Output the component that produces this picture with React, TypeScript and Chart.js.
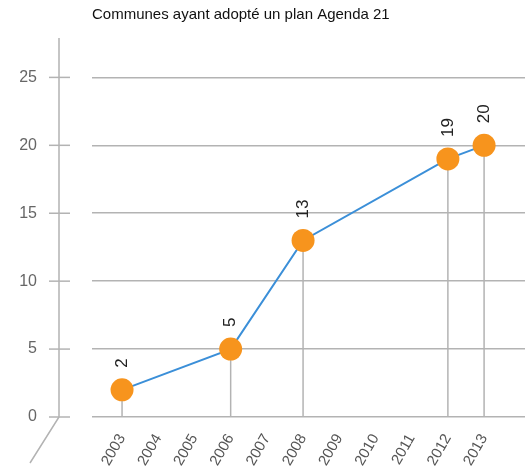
import React, { useEffect, useRef } from "react";
import { Chart, registerables } from "chart.js";

Chart.register(...registerables);

const title = "Communes ayant adopté un plan Agenda 21";
const years = [2003, 2006, 2008, 2012, 2013];
const values = [2, 5, 13, 19, 20];
const xTickYears = [2003, 2004, 2005, 2006, 2007, 2008, 2009, 2010, 2011, 2012, 2013];
const yTickValues = [0, 5, 10, 15, 20, 25];

const FONT = "'Liberation Sans', Arial, Helvetica, sans-serif";
const GRID = "#b3b3b3";

const zeroPad = (s: any) => {
  s.paddingTop = 0;
  s.paddingBottom = 0;
  s.paddingLeft = 0;
  s.paddingRight = 0;
};

const decorPlugin = {
  id: "decor",
  beforeDatasetsDraw(chart: any) {
    const { ctx } = chart;
    const xs = chart.scales.x;
    const ys = chart.scales.y;
    const y0 = ys.getPixelForValue(0);
    ctx.save();
    ctx.strokeStyle = GRID;
    ctx.lineWidth = 1.5;
    years.forEach((yr, i) => {
      const px = xs.getPixelForValue(yr);
      const py = ys.getPixelForValue(values[i]);
      ctx.beginPath();
      ctx.moveTo(px, py);
      ctx.lineTo(px, y0);
      ctx.stroke();
    });
    ctx.restore();
  },
  afterDatasetsDraw(chart: any) {
    const { ctx } = chart;
    const xs = chart.scales.x;
    const ys = chart.scales.y;
    ctx.save();
    ctx.fillStyle = "#222";
    ctx.font = `17px ${FONT}`;
    ctx.textAlign = "left";
    ctx.textBaseline = "middle";
    years.forEach((yr, i) => {
      const px = xs.getPixelForValue(yr);
      const py = ys.getPixelForValue(values[i]);
      ctx.save();
      ctx.translate(px, py - 22);
      ctx.rotate(-Math.PI / 2);
      ctx.fillText(String(values[i]), 0, 0);
      ctx.restore();
    });
    ctx.restore();
  },
  afterDraw(chart: any) {
    const { ctx, chartArea } = chart;
    const ys = chart.scales.y;
    const y0 = ys.getPixelForValue(0);
    const axX = chartArea.left - 33;
    ctx.save();
    ctx.strokeStyle = GRID;
    ctx.lineWidth = 1.5;
    ctx.beginPath();
    ctx.moveTo(axX, chartArea.top);
    ctx.lineTo(axX, y0);
    ctx.lineTo(axX - 29, y0 + 46);
    ctx.stroke();
    yTickValues.forEach((v) => {
      const py = ys.getPixelForValue(v);
      ctx.beginPath();
      ctx.moveTo(axX - 10, py);
      ctx.lineTo(axX + 11, py);
      ctx.stroke();
    });
    ctx.fillStyle = "#111";
    ctx.font = `15px ${FONT}`;
    ctx.textAlign = "left";
    ctx.textBaseline = "middle";
    ctx.fillText(title, chartArea.left, 15);
    ctx.restore();
  },
};

export default function App() {
  const ref = useRef<HTMLCanvasElement>(null);
  useEffect(() => {
    if (!ref.current) return;
    const chart = new Chart(ref.current, {
      type: "line",
      data: {
        datasets: [
          {
            data: years.map((yr, i) => ({ x: yr, y: values[i] })),
            borderColor: "#3b8fd8",
            borderWidth: 2,
            pointRadius: 11.5,
            pointBackgroundColor: "#f7941d",
            pointBorderColor: "#f7941d",
            pointBorderWidth: 0,
            tension: 0,
            clip: false,
          },
        ],
      },
      options: {
        responsive: false,
        animation: false,
        layout: { autoPadding: false, padding: { top: 38, left: 0, right: 0, bottom: 0 } },
        plugins: {
          legend: { display: false },
          title: { display: false },
          tooltip: { enabled: false },
        },
        scales: {
          x: {
            type: "linear",
            min: 2002.17,
            max: 2014.13,
            grid: { display: false },
            border: { display: false },
            afterBuildTicks: (s: any) => {
              s.ticks = xTickYears.map((v) => ({ value: v }));
            },
            afterFit: (s: any) => {
              s.height = 49;
              zeroPad(s);
            },
            ticks: {
              autoSkip: false,
              minRotation: 60,
              maxRotation: 60,
              padding: 6,
              color: "#555",
              font: { family: FONT, size: 15 },
              callback: (v: any) => String(v),
            },
          },
          y: {
            type: "linear",
            min: 0,
            max: 27.9,
            grid: { color: GRID, lineWidth: 1.5, drawTicks: false },
            border: { display: false },
            afterBuildTicks: (s: any) => {
              s.ticks = yTickValues.map((v) => ({ value: v }));
            },
            afterFit: (s: any) => {
              s.width = 92;
              zeroPad(s);
            },
            ticks: {
              padding: 55,
              color: "#666",
              font: { family: FONT, size: 16 },
              callback: (v: any) => String(v),
            },
          },
        },
      },
      plugins: [decorPlugin],
    });
    return () => chart.destroy();
  }, []);
  return (
    <div style={{ position: "absolute", left: 0, top: 0, width: 525, height: 466 }}>
      <canvas ref={ref} width={525} height={466} style={{ width: 525, height: 466 }} />
    </div>
  );
}
